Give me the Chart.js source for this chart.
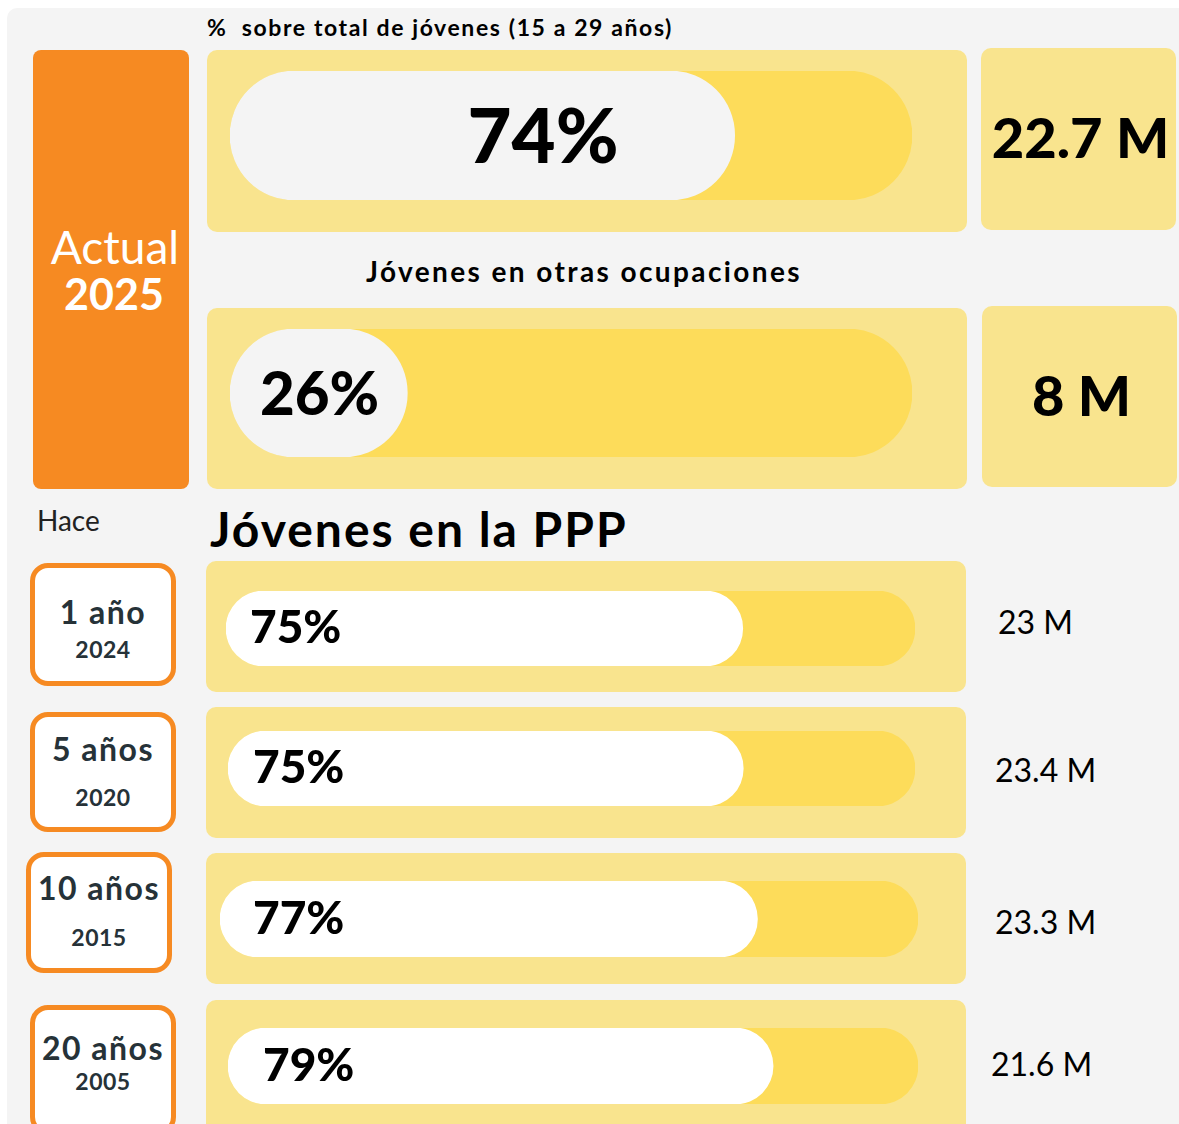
<!DOCTYPE html>
<html lang="es">
<head>
<meta charset="utf-8">
<script src="https://cdn.jsdelivr.net/npm/chart.js@4.4.1/dist/chart.umd.min.js"></script>
<style>
  body { margin: 0; background: #fff; font-family: Lato, 'Open Sans', sans-serif; width: 1179px; height: 1124px; overflow: hidden; position: relative; }
  #card { position: absolute; left: 7px; top: 8px; width: 1180px; height: 1130px; background: #f4f4f4; border-top-left-radius: 10px; }
  .panel { position: absolute; background: #f9e48e; border-radius: 10px; }
  .orange { position: absolute; background: #f68a22; border-radius: 8px; }
  .period { position: absolute; box-sizing: border-box; background: #fff; border: 5px solid #f68a22; border-radius: 18px; }
  .t { position: absolute; white-space: pre; line-height: 1; }
  canvas { position: absolute; }
</style>
</head>
<body>
<div id="card"></div>
<script>
// data
const actualCats = ['Jóvenes en la PPP', 'Jóvenes en otras ocupaciones'];
const actualPct = [74, 26];
const actualMillions = [22.7, 8];

const histPeriods = ['1 año', '5 años', '10 años', '20 años'];
const histYears = ['2024', '2020', '2015', '2005'];
const histPct = [75, 75, 77, 79];
const histMillions = [23, 23.4, 23.3, 21.6];

// layout (page pixels)
const topLayout = [
  { panel: [207, 50, 760, 182], track: [230, 71, 682, 129], box: [981, 48, 195, 182], align: 'center', dx: 313, size: 76, fill: '#f4f4f4' },
  { panel: [207, 308, 760, 181], track: [230, 329, 682, 128], box: [982, 306, 195, 181], align: 'left', dx: 30, size: 60, fill: '#f4f4f4' }
];
const histLayout = [
  { panel: [206, 561, 760, 131], track: [226, 591, 689, 75], box: [30, 563, 146, 123], cx: 103, py: 611, yy: 649, mx: 998, my: 621, dx: 24 },
  { panel: [206, 707, 760, 131], track: [228, 731, 687, 75], box: [30, 712, 146, 120], cx: 103, py: 748, yy: 797, mx: 995, my: 769, dx: 25 },
  { panel: [206, 853, 760, 131], track: [220, 881, 698, 76], box: [26, 852, 146, 121], cx: 99, py: 887, yy: 937, mx: 995, my: 921, dx: 33 },
  { panel: [206, 1000, 760, 140], track: [228, 1028, 690, 76], box: [30, 1005, 146, 130], cx: 103, py: 1047, yy: 1081, mx: 991, my: 1063, dx: 35 }
];

function el(cls, r, parent) {
  const d = document.createElement('div');
  d.className = cls;
  if (r) {
    d.style.left = r[0] + 'px'; d.style.top = r[1] + 'px';
    d.style.width = r[2] + 'px'; d.style.height = r[3] + 'px';
  }
  (parent || document.body).appendChild(d);
  return d;
}

// text centred vertically at y; anchor 'l' | 'c'
function txt(s, x, y, css, anchor) {
  const d = el('t');
  d.textContent = s;
  Object.assign(d.style, css);
  d.style.left = x + 'px';
  d.style.top = y + 'px';
  d.style.transform = anchor === 'c' ? 'translate(-50%, -50%)' : 'translate(0, -50%)';
  return d;
}

const pctLabel = {
  id: 'pctLabel',
  afterDatasetsDraw(chart, args, opts) {
    const bar = chart.getDatasetMeta(0).data[0];
    const v = chart.data.datasets[0].data[0];
    const ctx = chart.ctx;
    ctx.save();
    ctx.fillStyle = '#000';
    ctx.font = '900 ' + opts.size + 'px Lato';
    ctx.textAlign = opts.align;
    ctx.textBaseline = 'middle';
    ctx.fillText(v + '%', chart.chartArea.left + opts.dx, bar.y + opts.dy);
    ctx.restore();
  }
};

function barChart(track, label, pct, fill, labelCfg) {
  const c = document.createElement('canvas');
  c.width = track[2]; c.height = track[3];
  c.style.left = track[0] + 'px'; c.style.top = track[1] + 'px';
  document.body.appendChild(c);
  return new Chart(c, {
    type: 'bar',
    data: {
      labels: [label],
      datasets: [
        { data: [pct], backgroundColor: fill, borderRadius: 999, borderSkipped: false, grouped: false, order: 0, categoryPercentage: 1, barPercentage: 1 },
        { data: [100], backgroundColor: '#fddc5a', borderRadius: 999, borderSkipped: false, grouped: false, order: 1, categoryPercentage: 1, barPercentage: 1 }
      ]
    },
    options: {
      indexAxis: 'y',
      responsive: false,
      animation: false,
      events: [],
      layout: { padding: 0 },
      scales: {
        x: { min: 0, max: 100, display: false },
        y: { display: false }
      },
      plugins: { legend: { display: false }, tooltip: { enabled: false }, pctLabel: labelCfg }
    },
    plugins: [pctLabel]
  });
}

function build() {
  // header texts
  txt('%  sobre total de jóvenes (15 a 29 años)', 207, 27, { font: '700 23px Lato', color: '#000', letterSpacing: '1.6px' }, 'l');
  el('orange', [33, 50, 156, 439]);
  txt('Actual', 115, 246, { font: '400 46px Lato', color: '#fff' }, 'c');
  txt('2025', 114, 293, { font: '700 43px Lato', color: '#fff' }, 'c');
  txt('Jóvenes en otras ocupaciones', 584, 271, { font: '700 28px Lato', color: '#000', letterSpacing: '2.4px' }, 'c');

  topLayout.forEach((L, i) => {
    el('panel', L.panel);
    el('panel', L.box);
    barChart(L.track, actualCats[i], actualPct[i], L.fill, { align: L.align, dx: L.dx, size: L.size, dy: 3 });
    txt(actualMillions[i] + ' M', L.box[0] + L.box[2] / 2 + 2, L.box[1] + L.box[3] / 2 - 3,
      { font: '900 56px Lato', color: '#000' }, 'c');
  });

  txt('Hace', 37, 520, { font: '400 28px Lato', color: '#222' }, 'l');
  txt('Jóvenes en la PPP', 210, 528, { font: '700 48px Lato', color: '#000', letterSpacing: '2px' }, 'l');

  histLayout.forEach((L, i) => {
    el('panel', L.panel);
    el('period', L.box);
    txt(histPeriods[i], L.cx, L.py, { font: '700 32px Lato', color: '#263238', letterSpacing: '1.5px' }, 'c');
    txt(histYears[i], L.cx, L.yy, { font: '700 23px Lato', color: '#263238', letterSpacing: '0.5px' }, 'c');
    barChart(L.track, histPeriods[i], histPct[i], '#ffffff', { align: 'left', dx: L.dx, size: 46, dy: 0 });
    txt(histMillions[i] + ' M', L.mx, L.my, { font: '400 32px Lato', color: '#000' }, 'l');
  });
}

document.fonts.load('900 40px Lato').then(build, build);
</script>
</body>
</html>
